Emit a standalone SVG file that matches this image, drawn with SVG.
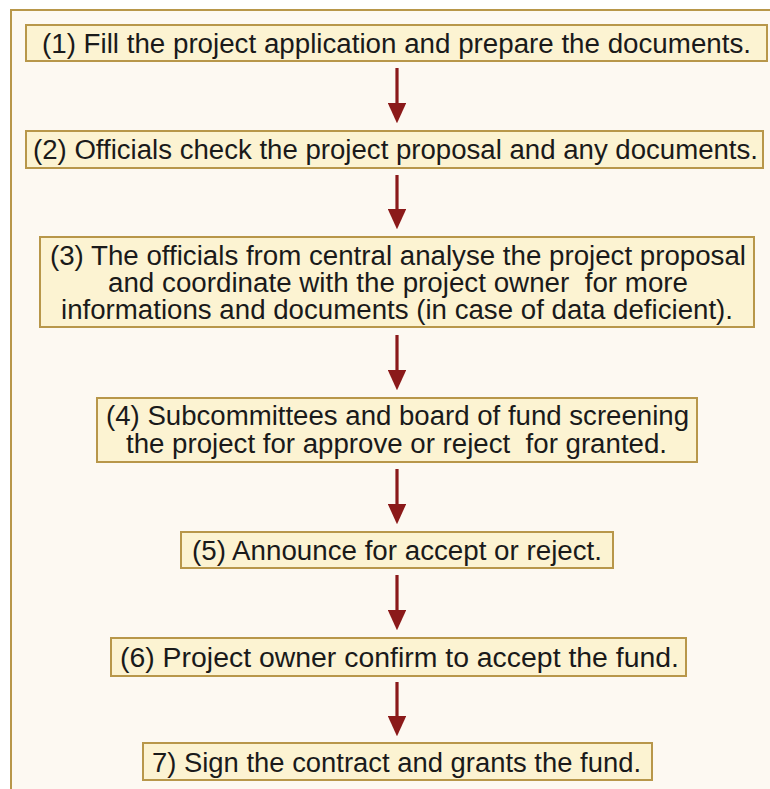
<svg xmlns="http://www.w3.org/2000/svg" width="770" height="789" viewBox="0 0 770 789">
<style>
.box{fill:#fcf3d2;stroke:#b8974a;stroke-width:2}
.t{font-family:"Liberation Sans",Arial,sans-serif;font-size:27px;fill:#1a1a1a;text-anchor:middle;white-space:pre}
.c{stroke:#8b1a1a;stroke-width:3.2;fill:none}
</style>
<defs>
<marker id="ah" markerWidth="6.4" markerHeight="5.8" refX="1" refY="2.9" orient="auto" markerUnits="strokeWidth">
<path d="M0,0 L6.4,2.9 L0,5.8 z" fill="#8b1a1a"/>
</marker>
</defs>
<rect width="770" height="789" fill="#ffffff"/>
<rect x="11" y="10" width="770" height="790" fill="#fdf9f2" stroke="#b8974a" stroke-width="2"/>
<g id="connectors">
<line class="c" x1="397" y1="68" x2="397" y2="106" marker-end="url(#ah)"/>
<line class="c" x1="397" y1="175" x2="397" y2="212" marker-end="url(#ah)"/>
<line class="c" x1="397" y1="335" x2="397" y2="373" marker-end="url(#ah)"/>
<line class="c" x1="397" y1="469" x2="397" y2="507" marker-end="url(#ah)"/>
<line class="c" x1="397" y1="575" x2="397" y2="613" marker-end="url(#ah)"/>
<line class="c" x1="397" y1="682" x2="397" y2="719" marker-end="url(#ah)"/>
</g>
<g id="n1"><rect class="box" x="26" y="25" width="741" height="36"/><text class="t" x="396.5" y="53" textLength="709" lengthAdjust="spacingAndGlyphs">(1) Fill the project application and prepare the documents.</text></g>
<g id="n2"><rect class="box" x="26" y="131" width="737" height="37"/><text class="t" x="395.5" y="159" textLength="725" lengthAdjust="spacingAndGlyphs">(2) Officials check the project proposal and any documents.</text></g>
<g id="n3"><rect class="box" x="40" y="237" width="714" height="90"/>
<text class="t" x="398" y="265" textLength="696" lengthAdjust="spacingAndGlyphs">(3) The officials from central analyse the project proposal</text>
<text class="t" x="398" y="292" textLength="580" lengthAdjust="spacingAndGlyphs">and coordinate with the project owner  for more</text>
<text class="t" x="397" y="319" textLength="672" lengthAdjust="spacingAndGlyphs">informations and documents (in case of data deficient).</text></g>
<g id="n4"><rect class="box" x="97" y="398" width="600" height="64"/>
<text class="t" x="397.5" y="425" textLength="583" lengthAdjust="spacingAndGlyphs">(4) Subcommittees and board of fund screening</text>
<text class="t" x="396.5" y="453" textLength="541" lengthAdjust="spacingAndGlyphs">the project for approve or reject  for granted.</text></g>
<g id="n5"><rect class="box" x="181" y="532" width="432" height="36"/><text class="t" x="397" y="560" textLength="410" lengthAdjust="spacingAndGlyphs">(5) Announce for accept or reject.</text></g>
<g id="n6"><rect class="box" x="111" y="638" width="575" height="38"/><text class="t" x="399.5" y="667" textLength="559" lengthAdjust="spacingAndGlyphs">(6) Project owner confirm to accept the fund.</text></g>
<g id="n7"><rect class="box" x="143" y="743" width="509" height="37"/><text class="t" x="396.5" y="772" textLength="489" lengthAdjust="spacingAndGlyphs">7) Sign the contract and grants the fund.</text></g>
</svg>
